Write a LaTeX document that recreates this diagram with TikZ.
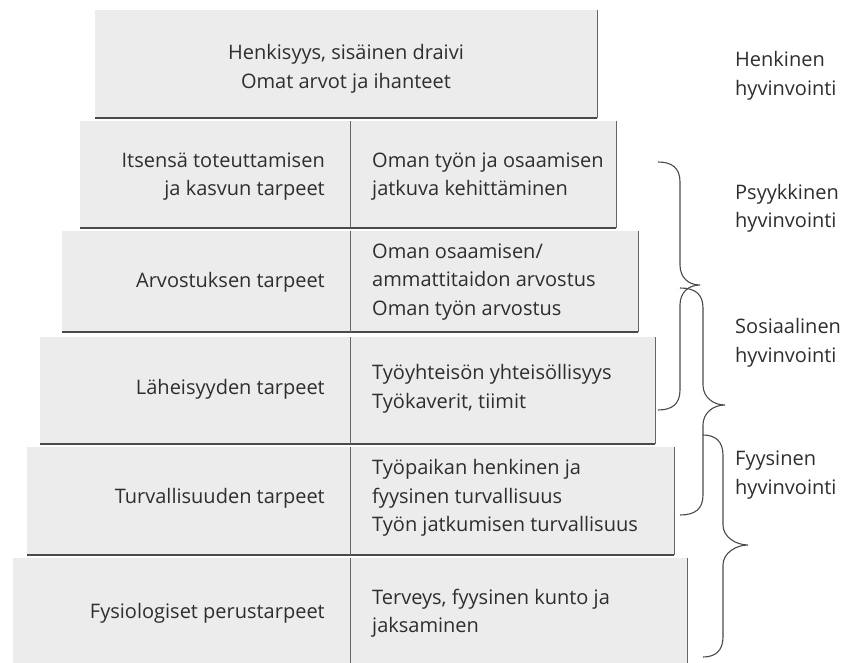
\documentclass[tikz,border=0pt]{standalone}
\usepackage{fontspec}
\setmainfont{Open Sans}
\definecolor{boxfill}{HTML}{ECECEC}
\definecolor{edge}{HTML}{4A4A4A}
\definecolor{ink}{HTML}{2E2E2E}
\newcommand\wbrace[7]{% name, xend, xvert, xtip, y1, ymid, y2
  \draw[bracestyle] (#2,#5) .. controls (#3-8,#5) and (#3,#5+6) .. (#3,#5+20)
    -- (#3,#6-20) .. controls (#3,#6-8) and (#4-12,#6) .. (#4,#6)
    .. controls (#4-12,#6) and (#3,#6+8) .. (#3,#6+20)
    -- (#3,#7-20) .. controls (#3,#7-6) and (#3-8,#7) .. (#2,#7);
  \coordinate (#1) at (#4,#6);}
\begin{document}
\begin{tikzpicture}[x=1pt,y=-1pt,
  boxstyle/.style={fill=boxfill},
  bottomline/.style={draw=edge,line width=1.4pt},
  sideline/.style={draw=edge!85,line width=0.9pt},
  bracestyle/.style={draw=edge,line width=1.1pt},
  txt/.style={inner sep=0pt,text=ink,font=\fontsize{20}{28.5}\selectfont},
  lefttxt/.style={txt,align=right,anchor=east},
  righttxt/.style={txt,align=left,anchor=west},
  lbl/.style={txt,align=left,anchor=west}]
\useasboundingbox (0,0) rectangle (844,663);
% boxes: left, right, top, bottom
\foreach \l/\r/\t/\b/\n in {95/597/10/118/1, 80/616/121/228/2, 62/638/231/332/3,
   40/655/337/444/4, 27/674/447/555/5, 13/687/558/663/6}{
  \fill[boxstyle] (\l,\t) rectangle (\r,\b);
  \draw[sideline] (\r,\t) -- (\r,\b);
  \ifnum\n<6 \draw[bottomline] (\l,\b) -- (\r,\b);\fi
  \ifnum\n>1 \draw[sideline] (350,\t) -- (350,\b);\fi
}
% texts
\node[txt,align=center] (t1) at (346,69) {Henkisyys, sisäinen draivi\\Omat arvot ja ihanteet};
\node[lefttxt] (l2) at (325,176.5) {Itsensä toteuttamisen\\ja kasvun tarpeet};
\node[righttxt] (r2) at (372,176.5) {Oman työn ja osaamisen\\jatkuva kehittäminen};
\node[lefttxt] (l3) at (325,282) {Arvostuksen tarpeet};
\node[righttxt] (r3) at (372,282) {Oman osaamisen/\\ammattitaidon arvostus\\Oman työn arvostus};
\node[lefttxt] (l4) at (325,389) {Läheisyyden tarpeet};
\node[righttxt] (r4) at (372,389) {Työyhteisön yhteisöllisyys\\Työkaverit, tiimit};
\node[lefttxt] (l5) at (325,498) {Turvallisuuden tarpeet};
\node[righttxt] (r5) at (372,498) {Työpaikan henkinen ja\\fyysinen turvallisuus\\Työn jatkumisen turvallisuus};
\node[lefttxt] (l6) at (325,613) {Fysiologiset perustarpeet};
\node[righttxt] (r6) at (372,613) {Terveys, fyysinen kunto ja\\jaksaminen};
% braces
\wbrace{b1}{658}{680}{700}{162}{285}{410}
\wbrace{b2}{680}{703}{725}{288}{405}{515}
\wbrace{b3}{703}{723}{748}{435}{545}{657}
% labels
\node[lbl] (h1) at (735,76) {Henkinen\\hyvinvointi};
\node[lbl] (h2) at (735,208.5) {Psyykkinen\\hyvinvointi};
\node[lbl] (h3) at (735,343) {Sosiaalinen\\hyvinvointi};
\node[lbl] (h4) at (735,475) {Fyysinen\\hyvinvointi};
\end{tikzpicture}
\end{document}
